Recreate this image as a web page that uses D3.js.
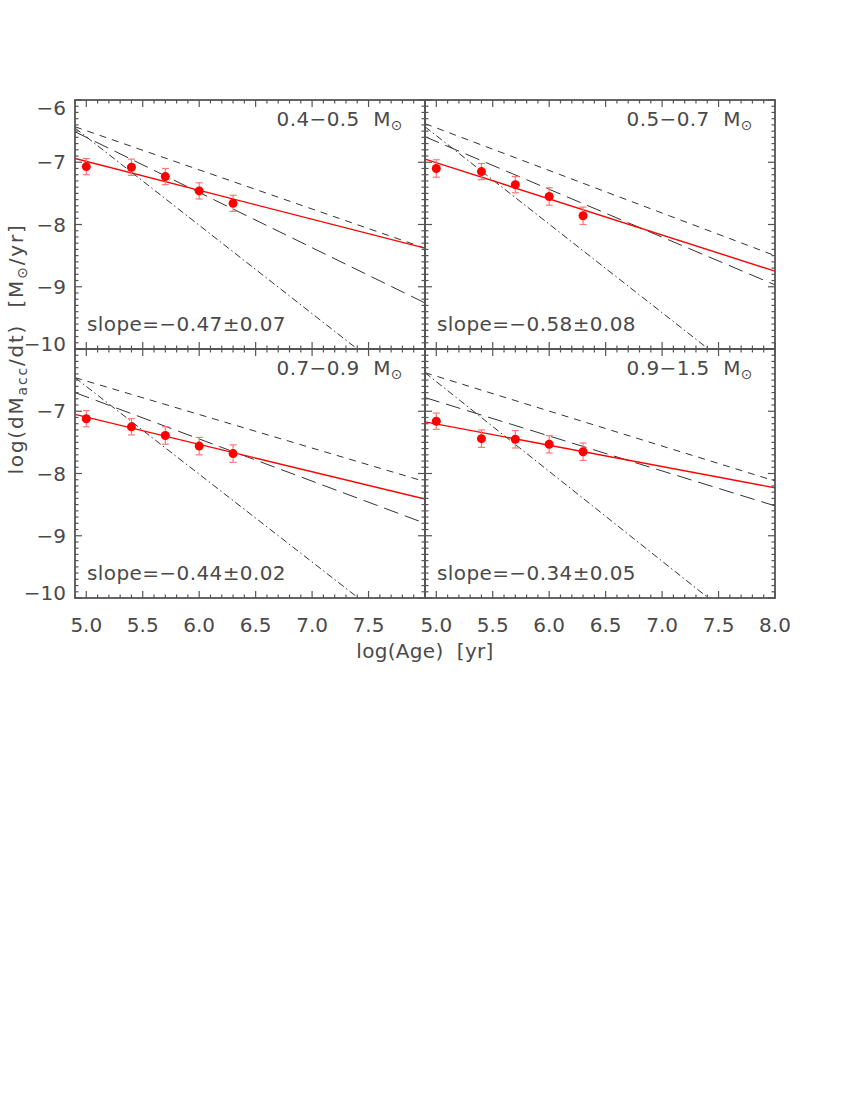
<!DOCTYPE html>
<html>
<head>
<meta charset="utf-8">
<script src="https://cdn.jsdelivr.net/npm/d3@7/dist/d3.min.js"></script>
<style>
  body { margin: 0; background: #fff; }
  svg text { font-family: "DejaVu Sans", sans-serif; fill: #4a4a4a; white-space: pre; }
</style>
</head>
<body>
<div id="chart"></div>
<script>
// data
const ages = [5.0, 5.4, 5.7, 6.0, 6.3];
const massBins = ["0.4−0.5", "0.5−0.7", "0.7−0.9", "0.9−1.5"];
const slopeLabels = ["−0.47±0.07", "−0.58±0.08", "−0.44±0.02", "−0.34±0.05"];
const logMdot = [
  [-7.07, -7.08, -7.23, -7.46, -7.66],
  [-7.10, -7.15, -7.36, -7.55, -7.86],
  [-7.12, -7.25, -7.39, -7.56, -7.68],
  [-7.16, -7.44, -7.45, -7.53, -7.65]
];
const logMdotErr = [
  [0.13, 0.13, 0.13, 0.13, 0.13],
  [0.14, 0.13, 0.13, 0.14, 0.14],
  [0.13, 0.13, 0.14, 0.14, 0.14],
  [0.13, 0.14, 0.14, 0.14, 0.14]
];
// fitted power law (red) and model lines, as end points [logAge, logMdot]
const fitLines = [
  [[4.9, -6.94], [8.0, -8.38]],
  [[4.9, -6.95], [8.0, -8.75]],
  [[4.9, -7.05], [8.0, -8.41]],
  [[4.9, -7.17], [8.0, -8.23]]
];
const modelShortDash = [
  [[4.9, -6.43], [8.0, -8.38]],
  [[4.9, -6.38], [8.0, -8.50]],
  [[4.9, -6.46], [8.0, -8.13]],
  [[4.9, -6.38], [8.0, -8.12]]
];
const modelLongDash = [
  [[4.9, -6.51], [8.0, -9.26]],
  [[4.9, -6.59], [8.0, -8.97]],
  [[4.9, -6.70], [8.0, -8.80]],
  [[4.9, -6.78], [8.0, -8.52]]
];
const modelDashDot = [
  [[4.9, -6.45], [7.40, -10.0]],
  [[4.9, -6.43], [7.41, -10.0]],
  [[4.9, -6.46], [7.41, -10.0]],
  [[4.9, -6.38], [7.41, -10.0]]
];
const xDomain = [4.9, 8.0];
const yDomain = [-10, -6];
const xTicks = [5.0, 5.5, 6.0, 6.5, 7.0, 7.5, 8.0];
const yTicks = [-10, -9, -8, -7, -6];

const W = 850, H = 1100;
const cols = [75, 425, 775];
const rows = [100, 349, 598];
const frameColor = "#555";

const svg = d3.select("#chart").append("svg")
  .attr("width", W).attr("height", H);

const fmtY = v => (v < 0 ? "−" : "") + Math.abs(v);

const panels = d3.range(4).map(i => ({
  i, col: i % 2, row: Math.floor(i / 2)
}));

panels.forEach(p => {
  const x = d3.scaleLinear().domain(xDomain).range([cols[p.col], cols[p.col + 1]]);
  const y = d3.scaleLinear().domain(yDomain).range([rows[p.row + 1], rows[p.row]]);
  const g = svg.append("g");
  const [x0, x1] = x.range();
  const [y1, y0] = y.range();

  g.append("clipPath").attr("id", "clip" + p.i)
    .append("rect").attr("x", x0).attr("y", y0).attr("width", x1 - x0).attr("height", y1 - y0);

  const plot = g.append("g").attr("clip-path", `url(#clip${p.i})`);
  const line = d3.line().x(d => x(d[0])).y(d => y(d[1]));

  plot.append("path").datum(modelShortDash[p.i]).attr("d", line)
    .attr("fill", "none").attr("stroke", "#333").attr("stroke-width", 1)
    .attr("stroke-dasharray", "7,6");
  plot.append("path").datum(modelLongDash[p.i]).attr("d", line)
    .attr("fill", "none").attr("stroke", "#333").attr("stroke-width", 1)
    .attr("stroke-dasharray", "15,7");
  plot.append("path").datum(modelDashDot[p.i]).attr("d", line)
    .attr("fill", "none").attr("stroke", "#333").attr("stroke-width", 1)
    .attr("stroke-dasharray", "7,3,1.5,3");
  plot.append("path").datum(fitLines[p.i]).attr("d", line)
    .attr("fill", "none").attr("stroke", "#ff0000").attr("stroke-width", 1.4);

  const pts = ages.map((a, k) => ({ a, v: logMdot[p.i][k], e: logMdotErr[p.i][k] }));
  const eb = plot.selectAll("g.err").data(pts).enter().append("g")
    .attr("stroke", "#f77").attr("stroke-width", 1.2);
  eb.append("line").attr("x1", d => x(d.a)).attr("x2", d => x(d.a))
    .attr("y1", d => y(d.v - d.e)).attr("y2", d => y(d.v + d.e));
  eb.append("line").attr("x1", d => x(d.a) - 3.5).attr("x2", d => x(d.a) + 3.5)
    .attr("y1", d => y(d.v - d.e)).attr("y2", d => y(d.v - d.e));
  eb.append("line").attr("x1", d => x(d.a) - 3.5).attr("x2", d => x(d.a) + 3.5)
    .attr("y1", d => y(d.v + d.e)).attr("y2", d => y(d.v + d.e));
  plot.selectAll("circle").data(pts).enter().append("circle")
    .attr("cx", d => x(d.a)).attr("cy", d => y(d.v)).attr("r", 4.5)
    .attr("fill", "#ff0000");

  // ticks on all four sides, pointing inwards
  const ticks = g.append("g").attr("stroke", frameColor).attr("stroke-width", 1.2);
  const xMinor = d3.range(49, 81).map(v => v / 10);
  const yMinor = d3.range(-100, -59).map(v => v / 10);
  const isMajorX = v => Math.abs(v * 2 - Math.round(v * 2)) < 1e-6;
  const isMajorY = v => Math.abs(v - Math.round(v)) < 1e-6;
  xMinor.forEach(v => {
    const len = isMajorX(v) ? 7 : 3.5;
    ticks.append("line").attr("x1", x(v)).attr("x2", x(v)).attr("y1", y0).attr("y2", y0 + len);
    ticks.append("line").attr("x1", x(v)).attr("x2", x(v)).attr("y1", y1).attr("y2", y1 - len);
  });
  yMinor.forEach(v => {
    const len = isMajorY(v) ? 7 : 3.5;
    ticks.append("line").attr("y1", y(v)).attr("y2", y(v)).attr("x1", x0).attr("x2", x0 + len);
    ticks.append("line").attr("y1", y(v)).attr("y2", y(v)).attr("x1", x1).attr("x2", x1 - len);
  });

  g.append("rect").attr("x", x0).attr("y", y0).attr("width", x1 - x0).attr("height", y1 - y0)
    .attr("fill", "none").attr("stroke", frameColor).attr("stroke-width", 1.8);

  // mass bin label
  const lab = g.append("text").attr("x", x1 - 22).attr("y", y0 + 26)
    .attr("text-anchor", "end").style("font-size", "20px").style("letter-spacing", "0.4px");
  lab.append("tspan").text(massBins[p.i] + "  M");
  lab.append("tspan").text("⊙").style("font-size", "14px").attr("dy", 4);

  g.append("text").attr("x", x0 + 12).attr("y", y1 - 18)
    .style("font-size", "20px").style("letter-spacing", "0.4px")
    .text("slope=" + slopeLabels[p.i]);

  // tick labels
  if (p.row === 1) {
    const xl = p.col === 0 ? xTicks.filter(v => v < 8) : xTicks;
    g.selectAll("text.xl").data(xl).enter().append("text")
      .attr("x", d => x(d)).attr("y", 632).attr("text-anchor", "middle")
      .style("font-size", "20px").text(d => d.toFixed(1));
  }
  if (p.col === 0) {
    const yl = p.row === 0 ? yTicks : yTicks.filter(v => v < -6);
    g.selectAll("text.yl").data(yl).enter().append("text")
      .attr("x", 66)
      .attr("y", d => Math.max(y0 + 8, Math.min(y1 - 5, y(d))))
      .attr("dy", "0.36em").attr("text-anchor", "end")
      .style("font-size", "20px").text(fmtY);
  }
});

// axis titles
svg.append("text").attr("x", 425).attr("y", 658).attr("text-anchor", "middle")
  .style("font-size", "20px").style("letter-spacing", "0.3px").text("log(Age)  [yr]");

const yt = svg.append("text").attr("transform", "translate(23,349) rotate(-90)")
  .attr("text-anchor", "middle").style("font-size", "20px").style("letter-spacing", "1.8px");
yt.append("tspan").text("log(dM");
yt.append("tspan").text("acc").style("font-size", "14px").attr("dy", 4);
yt.append("tspan").text("/dt)  [M").attr("dy", -4);
yt.append("tspan").text("⊙").style("font-size", "14px").attr("dy", 4);
yt.append("tspan").text("/yr]").attr("dy", -4);
</script>
</body>
</html>
